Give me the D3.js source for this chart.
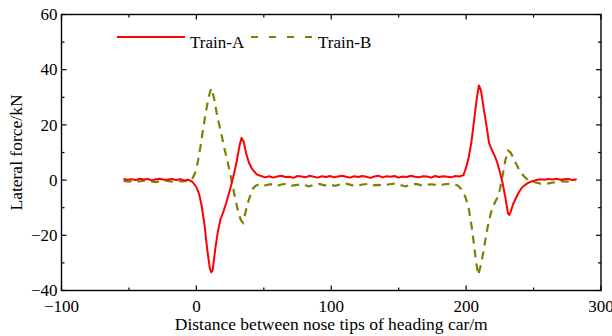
<!DOCTYPE html>
<html lang="en">
<head>
<meta charset="utf-8">
<title>Lateral force</title>
<style>
  body { margin: 0; background: #fff; }
  svg { display: block; font-family: "Liberation Serif", "Times New Roman", serif; }
  .lbl { font-size: 17px; fill: #000; }
</style>
</head>
<body>
<svg id="chart"></svg>
<script src="https://cdn.jsdelivr.net/npm/d3@7"></script>
<script>
const width = 612, height = 336;
const margin = {top: 14.5, right: 11, bottom: 45.5, left: 61.5};

const xTicks = [-100, 0, 100, 200, 300];
const yTicks = [-40, -20, 0, 20, 40, 60];
const seriesNames = ["Train-A", "Train-B"];

// Train-A
const distanceA = [-54,-51,-48,-45,-42,-39,-36,-33,-30,-27,-24,-21,-18,-15,-12,-9,-6,
  -3,0,2,4,6,8,10,11,12,14,16,18,20,22,24,26,28,30,32,33.5,35,37,39,41,43,45,
  48,51,54,57,60,63,66,69,72,75,78,81,84,87,90,93,96,99,102,105,108,111,114,117,120,123,126,129,132,135,
  138,141,144,147,150,153,156,159,162,165,168,171,174,177,180,183,186,189,192,195,
  198,200,202,204,206,208,209.5,211,213,215,217,219,221,223,225,227,229,231,232,233,235,237,239,241,243,246,249,252,
  255,258,261,264,267,270,273,276,279,282];
const forceA = [0.4,0.1,0.3,0.0,0.5,0.2,0.4,-0.1,0.3,0.5,0.1,0.2,0.4,0.0,0.3,-0.1,0.1,
  -0.6,-2.5,-5,-9.5,-16,-25,-32,-33.4,-32.8,-25,-18.5,-14,-11.5,-8.5,-5,-1.5,2.5,7,12.5,15.3,14,9.5,6.3,4.3,3,2,
  1.5,1.0,1.4,0.9,1.3,1.6,1.1,1.2,0.8,1.5,1.3,1.0,1.6,1.2,0.9,1.4,1.1,1.5,1.0,1.3,1.6,1.2,0.9,1.4,1.1,1.5,1.2,0.8,1.3,1.6,
  1.0,1.4,1.2,1.5,0.9,1.3,1.1,1.6,1.2,1.0,1.4,1.3,0.9,1.5,1.1,1.4,1.2,1.0,1.5,1.3,
  1.8,4.5,8.5,14,22,30,34.3,32.5,26,20,13.5,11,9,6.5,3,-1,-6,-12,-12.6,-11.5,-8.5,-6.5,-4.5,-3,-2,-1,-0.4,0,
  0.3,0.1,0.4,0.2,0.5,0.1,0.3,0.4,0.0,0.3];

// Train-B
const distanceB = [-54,-50,-46,-42,-38,-34,-30,-26,-22,-18,-14,-10,-6,
  -3,-1,1,3,5,7,9,11,13,15,17,19,21,23,25,27,29,31,33,34.5,36,38,40,42,44,
  47,51,55,59,63,67,71,75,79,83,87,91,95,99,103,107,111,115,119,123,127,131,135,139,143,147,151,155,159,163,167,171,175,179,183,187,191,
  194,196,198,200,202,204,206,207.5,209,211,213,215,217,219,221,223,225,227,229,231,233,235,237,239,241,244,247,251,255,259,263,267,271,275,279,281];
const forceB = [-0.3,-0.6,-0.2,-0.5,-0.1,-0.4,-0.7,-0.3,-0.2,-0.6,-0.4,-0.5,-0.2,
  0.5,2.5,6.5,12,18.5,24.5,30,33.3,30,24.5,20,15.5,11,7,2.5,-2.5,-7,-11.5,-14.5,-15.4,-12.5,-8.5,-5.5,-3,-2,
  -1.4,-1.9,-1.5,-2.2,-1.6,-1.3,-2.0,-1.7,-1.5,-2.3,-1.8,-1.4,-1.9,-1.6,-2.1,-1.5,-1.3,-1.8,-2.2,-1.6,-1.4,-1.9,-1.7,-2.0,-1.5,-1.3,-1.8,-2.3,-1.6,-1.4,-1.9,-1.7,-1.5,-2.0,-1.6,-1.4,-1.5,
  -2,-3,-4.2,-7,-10.5,-16.5,-24,-30,-34.4,-30.5,-25.5,-19.5,-14.5,-10.8,-8.5,-6.5,-3.5,1.5,7,10.7,10,8,6,4,2.5,0.8,-0.2,-0.8,-1.3,-1.4,-1.0,-0.7,-0.4,-0.6,-0.3,-0.2];

const colorA = "#ff0000", colorB = "#808000";

const svg = d3.select("#chart").attr("width", width).attr("height", height);

const x = d3.scaleLinear().domain([-100, 300]).range([margin.left, width - margin.right]);
const y = d3.scaleLinear().domain([-40, 60]).range([height - margin.bottom, margin.top]);

const x0 = x.range()[0], x1 = x.range()[1], y0 = y.range()[0], y1 = y.range()[1];
const xMinor = d3.range(-100, 301, 50);
const yMinor = d3.range(-40, 61, 10);

// lines
const line = d3.line().x(d => x(d[0])).y(d => y(d[1]));
svg.append("path")
  .datum(distanceB.map((d, i) => [d, forceB[i]]))
  .attr("d", line).attr("fill", "none")
  .attr("stroke", colorB).attr("stroke-width", 2.2)
  .attr("stroke-dasharray", "8,6");
svg.append("path")
  .datum(distanceA.map((d, i) => [d, forceA[i]]))
  .attr("d", line).attr("fill", "none")
  .attr("stroke", colorA).attr("stroke-width", 2)
  .attr("stroke-linejoin", "round");

// ticks (inward, mirrored on top and right)
const tk = svg.append("g").attr("stroke", "#000").attr("stroke-width", 1.2);
xMinor.forEach(v => {
  const len = xTicks.includes(v) ? 5 : 3;
  tk.append("line").attr("x1", x(v)).attr("x2", x(v)).attr("y1", y0).attr("y2", y0 - len);
  tk.append("line").attr("x1", x(v)).attr("x2", x(v)).attr("y1", y1).attr("y2", y1 + len);
});
yMinor.forEach(v => {
  const len = yTicks.includes(v) ? 5 : 3;
  tk.append("line").attr("y1", y(v)).attr("y2", y(v)).attr("x1", x0).attr("x2", x0 + len);
  tk.append("line").attr("y1", y(v)).attr("y2", y(v)).attr("x1", x1).attr("x2", x1 - len);
});

// frame
svg.append("rect")
  .attr("x", x0).attr("y", y1).attr("width", x1 - x0).attr("height", y0 - y1)
  .attr("fill", "none").attr("stroke", "#000").attr("stroke-width", 1.4);

const fmt = v => v < 0 ? "\u2212" + Math.abs(v) : String(v);

svg.append("g").selectAll("text").data(xTicks).join("text")
  .attr("class", "lbl").attr("x", d => x(d)).attr("y", y0 + 21)
  .attr("text-anchor", "middle").text(fmt);

svg.append("g").selectAll("text").data(yTicks).join("text")
  .attr("class", "lbl").attr("x", x0 - 4).attr("y", d => y(d)).attr("dy", "0.33em")
  .attr("text-anchor", "end").text(fmt);

svg.append("text").attr("class", "lbl")
  .attr("x", (x0 + x1) / 2).attr("y", 330).attr("text-anchor", "middle")
  .style("font-size", "17.5px")
  .text("Distance between nose tips of heading car/m");

svg.append("text").attr("class", "lbl")
  .attr("transform", `translate(22,${(y0 + y1) / 2}) rotate(-90)`)
  .attr("text-anchor", "middle").style("font-size", "17.5px")
  .text("Lateral force/kN");

// legend
const lg = svg.append("g");
lg.append("line").attr("x1", 117).attr("x2", 185).attr("y1", 37).attr("y2", 37)
  .attr("stroke", colorA).attr("stroke-width", 2);
lg.append("text").attr("class", "lbl").attr("x", 190).attr("y", 48).text(seriesNames[0]);
lg.append("line").attr("x1", 251).attr("x2", 314).attr("y1", 37).attr("y2", 37)
  .attr("stroke", colorB).attr("stroke-width", 2.2).attr("stroke-dasharray", "7,11");
lg.append("text").attr("class", "lbl").attr("x", 318).attr("y", 48).text(seriesNames[1]);
</script>
</body>
</html>
